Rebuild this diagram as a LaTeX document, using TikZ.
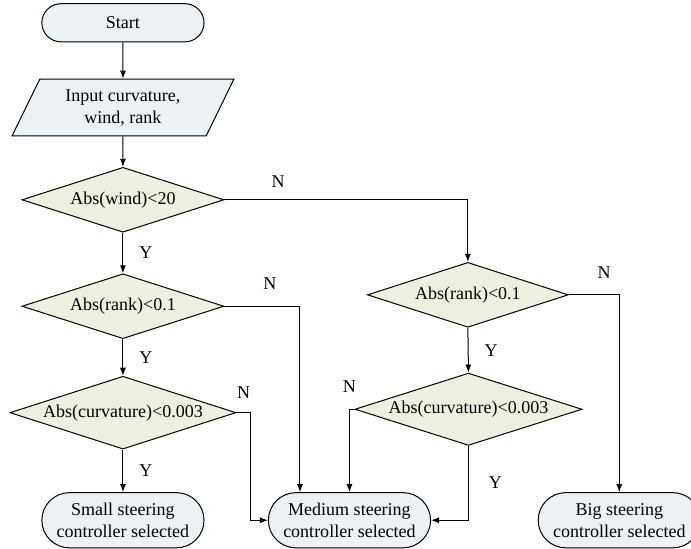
\documentclass[tikz,border=0pt]{standalone}
\usepackage{fontspec}
\setmainfont{Liberation Serif}
\usepackage{tikz}
\usetikzlibrary{positioning, arrows.meta, shapes.geometric, shapes.misc}
\definecolor{TermFill}{RGB}{235,241,245}
\definecolor{DecFill}{RGB}{235,241,222}

\begin{document}
\begin{tikzpicture}[
    font=\rmfamily\fontsize{9}{11}\selectfont,
    terminal/.style={draw, rounded rectangle, align=center, minimum width=2.92cm,
                     minimum height=0.97cm, fill=TermFill, inner sep=1pt},
    inputbox/.style={draw, trapezium, trapezium left angle=64, trapezium right angle=116,
                     align=center, minimum width=3.90cm, minimum height=0.98cm,
                     fill=TermFill, inner sep=1pt},
    decision/.style={draw, diamond, shape aspect=3.1, inner sep=0pt, fill=DecFill},
    lbl/.style={inner sep=2pt},
    flow/.style={-{Latex[length=4pt, width=3pt]}, line width=0.5pt},
    line width=0.5pt]
    \useasboundingbox (0,0) rectangle (12.14,-9.63);

    \node[terminal, minimum height=0.67cm] (start) at (2.16,-0.40) {Start};
    \node[inputbox] (input) at (2.16,-1.89) {Input curvature,\\wind, rank};

    \node[decision, minimum width=3.55cm, minimum height=1.14cm] (wind)  at (2.16,-3.51) {Abs(wind)<20};
    \node[decision, minimum width=3.55cm, minimum height=1.14cm] (rankL) at (2.16,-5.38) {Abs(rank)<0.1};
    \node[decision, minimum width=3.97cm, minimum height=1.28cm] (curvL) at (2.16,-7.25) {Abs(curvature)<0.003};

    \node[decision, minimum width=3.53cm, minimum height=1.14cm] (rankR) at (8.22,-5.18) {Abs(rank)<0.1};
    \node[decision, minimum width=3.99cm, minimum height=1.27cm] (curvR) at (8.23,-7.19) {Abs(curvature)<0.003};

    \node[terminal] (small)  at ( 2.16,-9.14) {Small steering\\controller selected};
    \node[terminal] (medium) at ( 6.14,-9.14) {Medium steering\\controller selected};
    \node[terminal] (big)    at (10.88,-9.14) {Big steering\\controller selected};

    \draw[flow] (start) -- (input);
    \draw[flow] (input) -- (wind);
    \draw[flow] (wind.south) -- node[lbl, right=6pt] {Y} (rankL.north);
    \draw[flow] (wind.east) -| node[lbl, pos=0.11, above=4pt] {N} (rankR.north);
    \draw[flow] (rankL.south) -- node[lbl, right=6pt] {Y} (curvL.north);
    \draw[flow] (rankL.east) -| node[lbl, pos=0.3, above=6pt] {N} ([xshift=-0.87cm]medium.north);
    \draw[flow] (curvL.south) -- node[lbl, right=6pt] {Y} (small.north);
    \draw[flow] (curvL.east) -- node[lbl, above=5pt] {N} ++(0.25,0) |- (medium.west);
    \draw[flow] (rankR.south) -- node[lbl, right=6pt] {Y} (curvR.north);
    \draw[flow] (rankR.east) -| node[lbl, pos=0.35, above=6pt] {N} (big.north);
    \draw[flow] (curvR.west) -| node[lbl, pos=0.5, above=6pt] {N} (medium.north);
    \draw[flow] (curvR.south) |- node[lbl, pos=0.25, right=8pt] {Y} (medium.east);
\end{tikzpicture}
\end{document}
